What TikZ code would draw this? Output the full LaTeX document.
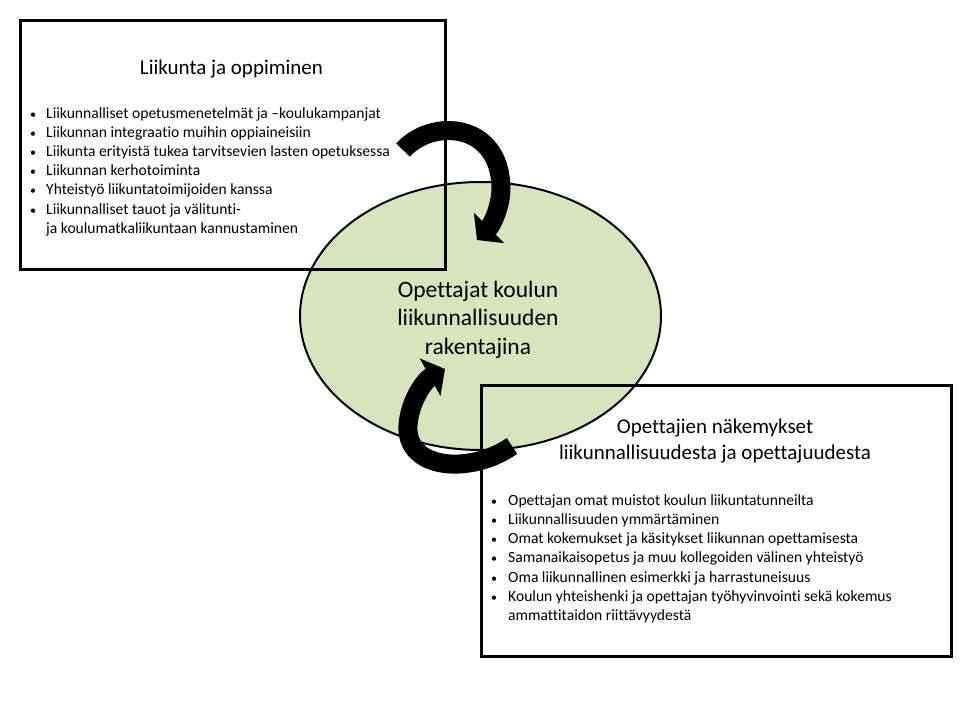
\documentclass[tikz,border=0pt]{standalone}
\usepackage{fontspec}
\setmainfont{Carlito}[Ligatures=NoCommon]
\usetikzlibrary{arrows.meta,shapes.geometric}
\definecolor{ellfill}{RGB}{215,228,189}
\begin{document}
\begin{tikzpicture}[x=1pt,y=-1pt,
  boxframe/.style={draw=black, line width=2.5pt, minimum width=425pt, inner sep=0pt},
  bigarrow/.style={line width=19pt, draw=black, -{Triangle[length=17pt,width=42pt]}},
  bultext/.style={anchor=base west, inner sep=0pt, font=\fontsize{15.6}{17}\selectfont},
  bulmark/.style={anchor=base west, inner sep=0pt, font=\fontsize{12}{17}\selectfont},
  titletext/.style={anchor=base, inner sep=0pt, font=\fontsize{21}{24}\selectfont},
  elltext/.style={anchor=base, inner sep=0pt, font=\fontsize{23.5}{26}\selectfont}]
\useasboundingbox (0,0) rectangle (960,720);
\fill[white] (0,0) rectangle (960,720);
% central ellipse
\node[ellipse, draw=black, line width=2pt, fill=ellfill, minimum width=361pt, minimum height=268pt, inner sep=0pt] (ell) at (480.5,316) {};
\node[elltext] (e1) at (478,297) {Opettajat koulun};
\node[elltext] (e2) at (478,325) {liikunnallisuuden};
\node[elltext] (e3) at (478,354) {rakentajina};
% top-left box
\node[boxframe, anchor=north west, minimum width=425pt, minimum height=249pt] (tl) at (19,19) {};
\node[titletext] (tltitle) at (231.5,74) {Liikunta ja oppiminen};
\foreach \k/\t in {0/Liikunnalliset opetusmenetelmät ja –koulukampanjat,
                   1/Liikunnan integraatio muihin oppiaineisiin,
                   2/Liikunta erityistä tukea tarvitsevien lasten opetuksessa,
                   3/Liikunnan kerhotoiminta,
                   4/Yhteistyö liikuntatoimijoiden kanssa,
                   5/Liikunnalliset tauot ja välitunti-}{
  \node[bulmark] (tlb\k) at (30,118+19.2*\k) {•};
  \node[bultext] (tlt\k) at (46,118+19.2*\k) {\t};
}
\node[bultext] (tlt6) at (46,118+19.2*6) {ja koulumatkaliikuntaan kannustaminen};
% bottom-right box
\node[boxframe, anchor=north west, minimum width=470pt, minimum height=271pt] (br) at (480,384) {};
\node[titletext] (brtitle1) at (715,433) {Opettajien näkemykset};
\node[titletext] (brtitle2) at (715,459) {liikunnallisuudesta ja opettajuudesta};
\foreach \k/\t in {0/Opettajan omat muistot koulun liikuntatunneilta,
                   1/Liikunnallisuuden ymmärtäminen,
                   2/Omat kokemukset ja käsitykset liikunnan opettamisesta,
                   3/Samanaikaisopetus ja muu kollegoiden välinen yhteistyö,
                   4/Oma liikunnallinen esimerkki ja harrastuneisuus,
                   5/Koulun yhteishenki ja opettajan työhyvinvointi sekä kokemus}{
  \node[bulmark] (brb\k) at (491,505+19.3*\k) {•};
  \node[bultext] (brt\k) at (508,505+19.3*\k) {\t};
}
\node[bultext] (brt6) at (508,505+19.3*6) {ammattitaidon riittävyydestä};
% curved arrows
\coordinate (a1s) at (403,150);
\coordinate (a1m) at (501,188);
\coordinate (a1e) at (477,240);
\coordinate (a2s) at (512,446);
\coordinate (a2m) at (408,425);
\coordinate (a2e) at (445,369);
\draw[bigarrow] (a1s) .. controls (432,118) and (500,122) .. (a1m) .. controls (501,206) and (492,225) .. (a1e);
\draw[bigarrow] (a2s) .. controls (470,475) and (405,470) .. (a2m) .. controls (410,400) and (425,380) .. (a2e);
\end{tikzpicture}
\end{document}
